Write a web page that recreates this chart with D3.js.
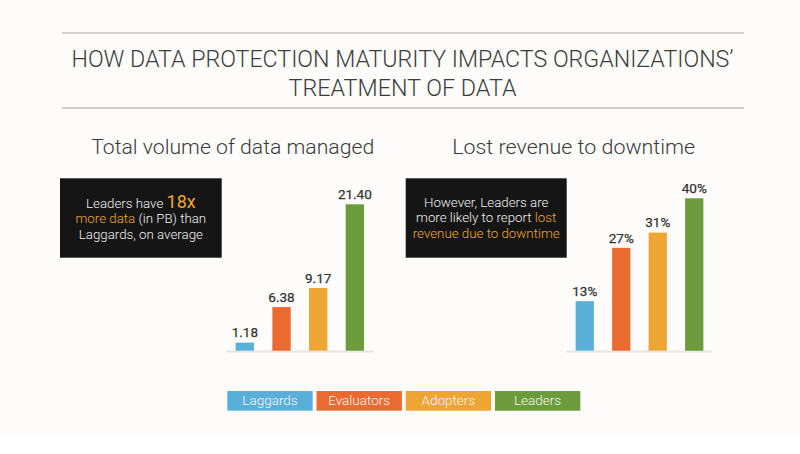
<!DOCTYPE html>
<html>
<head>
<meta charset="utf-8">
<script src="https://cdn.jsdelivr.net/npm/d3@7"></script>
<style>
  html, body { margin: 0; padding: 0; background: #ffffff; }
  svg { display: block; }
  text { font-family: Roboto, "Noto Sans", sans-serif; }
</style>
</head>
<body>
<svg id="chart" width="800" height="454"></svg>
<script>
// ---- data ----
const categories = ["Laggards", "Evaluators", "Adopters", "Leaders"];
const volumeValues = [1.18, 6.38, 9.17, 21.40];
const volumeLabels = ["1.18", "6.38", "9.17", "21.40"];
const revenueValues = [13, 27, 31, 40];
const revenueLabels = ["13%", "27%", "31%", "40%"];
const colors = ["#5aafd9", "#ea6a32", "#eda533", "#6b9b3a"];
const titleLines = ["HOW DATA PROTECTION MATURITY IMPACTS ORGANIZATIONS\u2019", "TREATMENT OF DATA"];
const panelTitles = ["Total volume of data managed", "Lost revenue to downtime"];

const svg = d3.select("#chart");

// background
svg.append("rect").attr("x", 0).attr("y", 0).attr("width", 800).attr("height", 435).attr("fill", "#fdfcfa");

// title rules
svg.append("line").attr("x1", 62).attr("x2", 744).attr("y1", 33).attr("y2", 33)
  .attr("stroke", "#cfcfcf").attr("stroke-width", 2);
svg.append("line").attr("x1", 62).attr("x2", 744).attr("y1", 108).attr("y2", 108)
  .attr("stroke", "#cfcfcf").attr("stroke-width", 2);

// title
const titleW = [662, 228];
const titleY = [66.5, 96];
titleLines.forEach((t, i) => {
  svg.append("text")
    .attr("x", 402.5).attr("y", titleY[i])
    .attr("text-anchor", "middle")
    .attr("font-size", 23.5).attr("font-weight", 300)
    .attr("fill", "#3c3c3c")
    .attr("textLength", titleW[i]).attr("lengthAdjust", "spacingAndGlyphs")
    .text(t);
});

// panel titles
const panelTitleX = [232.7, 573.7];
const panelTitleW = [283, 243];
panelTitles.forEach((t, i) => {
  svg.append("text")
    .attr("x", panelTitleX[i]).attr("y", 154.3)
    .attr("text-anchor", "middle")
    .attr("font-size", 20).attr("font-weight", 300)
    .attr("fill", "#3a3a3a")
    .attr("textLength", panelTitleW[i]).attr("lengthAdjust", "spacingAndGlyphs")
    .text(t);
});

// callout boxes
function callout(x, y, w, h, lines) {
  svg.append("rect").attr("x", x).attr("y", y).attr("width", w).attr("height", h).attr("fill", "#151515");
  const cx = x + w / 2;
  lines.forEach(l => {
    const t = svg.append("text").attr("x", cx).attr("y", l.y).attr("text-anchor", "middle")
      .attr("font-size", 13.3).attr("font-weight", 300).attr("fill", "#f2f2f2");
    l.parts.forEach(p => {
      const ts = t.append("tspan").text(p.text);
      if (p.hl) ts.attr("fill", "#f0a72f");
      if (p.size) ts.attr("font-size", p.size).attr("font-weight", 400);
    });
  });
}

callout(60, 178.3, 161.7, 79.4, [
  { y: 207.7, parts: [{ text: "Leaders have " }, { text: "18x", hl: true, size: 18 }] },
  { y: 223.3, parts: [{ text: "more data", hl: true }, { text: " (in PB) than" }] },
  { y: 238.7, parts: [{ text: "Laggards, on average" }] }
]);

callout(405.7, 178.3, 161, 79.4, [
  { y: 206.7, parts: [{ text: "However, Leaders are" }] },
  { y: 222.3, parts: [{ text: "more likely to report " }, { text: "lost", hl: true }] },
  { y: 237.7, parts: [{ text: "revenue due to downtime", hl: true }] }
]);

// bar panels
function barPanel(x0, x1, yTop, values, labels) {
  const baseY = 350.7;
  const x = d3.scaleBand().domain(categories).range([x0, x1]).paddingInner(0.5).paddingOuter(0.245);
  const y = d3.scaleLinear().domain([0, d3.max(values)]).range([baseY, yTop]);
  const g = svg.append("g");
  g.append("line").attr("x1", x0).attr("x2", x1).attr("y1", baseY + 0.8).attr("y2", baseY + 0.8)
    .attr("stroke", "#e6e6e6").attr("stroke-width", 2);
  g.selectAll("rect.bar").data(values).join("rect").attr("class", "bar")
    .attr("x", (d, i) => x(categories[i]))
    .attr("width", x.bandwidth())
    .attr("y", d => y(d))
    .attr("height", d => baseY - y(d))
    .attr("fill", (d, i) => colors[i]);
  g.selectAll("text.val").data(values).join("text").attr("class", "val")
    .attr("x", (d, i) => x(categories[i]) + x.bandwidth() / 2)
    .attr("y", d => y(d) - 5.3)
    .attr("text-anchor", "middle")
    .attr("font-size", 13.5).attr("font-weight", 400)
    .attr("fill", "#333333")
    .attr("stroke", "#333333").attr("stroke-width", 0.25)
    .text((d, i) => labels[i]);
}

barPanel(226.7, 373, 204.3, volumeValues, volumeLabels);
barPanel(566.7, 712.3, 198.3, revenueValues, revenueLabels);

// legend
const legend = d3.scaleBand().domain(categories).range([227.3, 580.3]).paddingInner(0.043);
categories.forEach((c, i) => {
  svg.append("rect").attr("x", legend(c)).attr("y", 391).attr("width", legend.bandwidth()).attr("height", 19.7)
    .attr("fill", colors[i]);
  svg.append("text").attr("x", legend(c) + legend.bandwidth() / 2).attr("y", 405.3)
    .attr("text-anchor", "middle").attr("font-size", 13.5).attr("font-weight", 300)
    .attr("fill", "#f7f7f7").text(c);
});
</script>
</body>
</html>
